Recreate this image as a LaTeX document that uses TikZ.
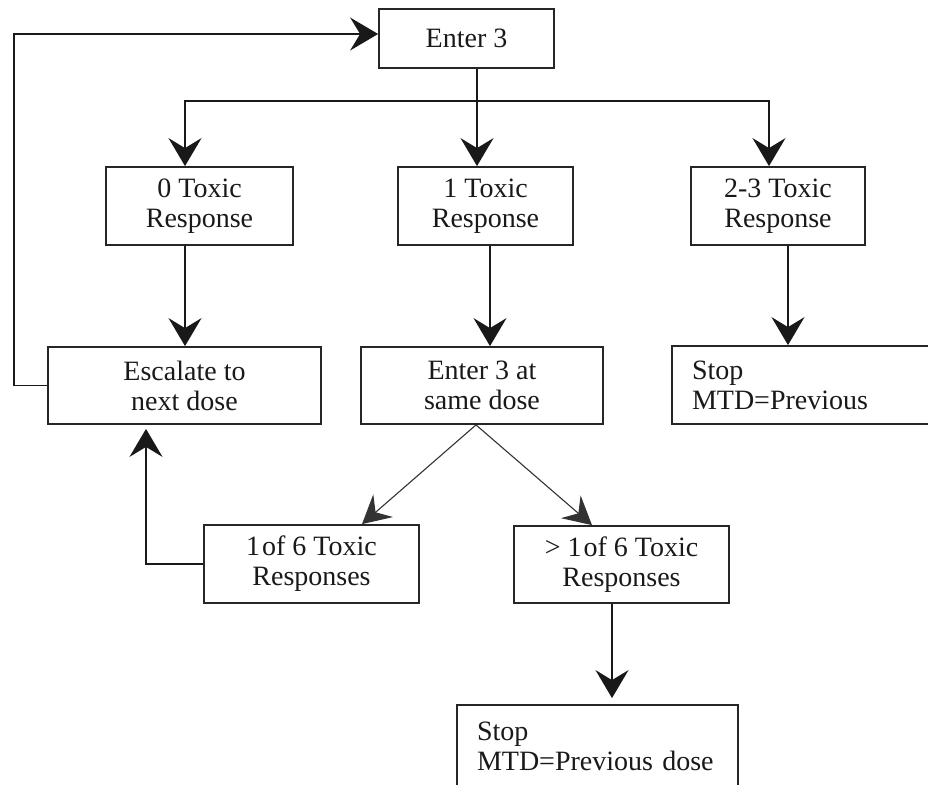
\documentclass[tikz,border=0pt]{standalone}
\usepackage{fontspec}
\setmainfont{Liberation Serif}
\usetikzlibrary{arrows.meta}
\begin{document}
\begin{tikzpicture}[x=1pt,y=-1pt,
  flowbox/.style={draw=black!85, line width=1.8pt, inner sep=0pt, align=center, text=black!90, font=\fontsize{28}{30}\selectfont},
  arr/.style={draw=black!90, -{Stealth[length=28pt,width=33pt,inset=10pt]}, line width=1.8pt},
  thinarr/.style={draw=black!80, -{Stealth[length=28pt,width=30pt,inset=10pt]}, line width=1.1pt}]
\useasboundingbox (0,0) rectangle (928,784);
\node[flowbox, minimum width=175pt, minimum height=59pt] (enter) at (466.5,38.5) {Enter 3};
\node[flowbox, minimum width=187pt, minimum height=78pt] (t0) at (199.5,206) {0 Toxic\\Response};
\node[flowbox, minimum width=175pt, minimum height=78pt] (t1) at (485.5,206) {1 Toxic\\Response};
\node[flowbox, minimum width=174pt, minimum height=78pt] (t23) at (778,206) {2-3 Toxic\\Response};
\node[flowbox, minimum width=273pt, minimum height=77pt] (esc) at (184.5,385.5) {Escalate to\\next dose};
\node[flowbox, minimum width=242pt, minimum height=77pt] (same) at (482,385.5) {Enter 3 at\\same dose};
\node[flowbox, text width=233pt, inner xsep=20pt, align=left, minimum height=78pt] (stopa) at (808.5,385) {Stop\\MTD=Previous};
\node[flowbox, minimum width=215pt, minimum height=78pt] (onesix) at (311.5,564) {1\kern2pt of 6 Toxic\\Responses};
\node[flowbox, minimum width=215pt, minimum height=77pt] (gtsix) at (621.5,564.5) {> 1\kern2pt of 6 Toxic\\Responses};
\node[flowbox, text width=241pt, inner xsep=20pt, align=left, minimum height=82pt] (stopb) at (597.5,746) {Stop\\MTD=Previous dose};
\coordinate (br) at (477,101);
\draw[arr] ([xshift=10.5pt]enter.south) -- ([xshift=-8.5pt]t1.north);
\draw[arr] (br) -| ([xshift=-14.5pt]t0.north);
\draw[arr] (br) -| ([xshift=-9pt]t23.north);
\draw[arr] ([xshift=0.5pt]esc.north |- t0.south) -- ([xshift=0.5pt]esc.north);
\draw[arr] ([xshift=4.5pt]t1.south) -- ([xshift=8pt]same.north);
\draw[arr] ([xshift=10pt]t23.south) -- ([xshift=10pt]t23.south |- stopa.north);
\draw[arr] (esc.west) -- ++(-33,0) |- ([yshift=4.5pt]enter.west);
\draw[thinarr] ([xshift=-6pt]same.south) -- ([xshift=50.5pt]onesix.north);
\draw[thinarr] ([xshift=-6pt]same.south) -- ([xshift=-29.5pt]gtsix.north);
\draw[arr] (onesix.west) -| ([xshift=-38.5pt,yshift=-4pt]esc.south);
\draw[arr] ([xshift=-9.5pt]gtsix.south) -- ([xshift=-9.5pt,yshift=6pt]gtsix.south |- stopb.north);
\end{tikzpicture}
\end{document}
